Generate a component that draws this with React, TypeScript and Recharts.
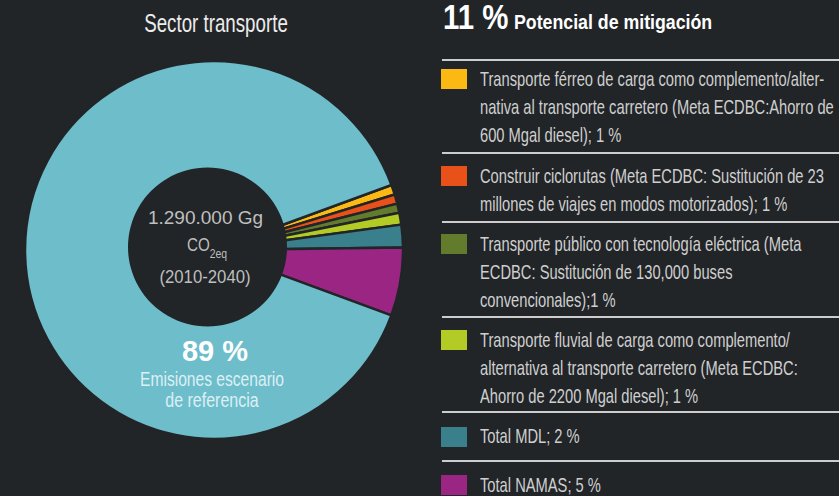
import React from 'react';
import { PieChart, Pie, Cell } from 'recharts';

// ---- data ----
const sliceNames = [
  'Transporte férreo de carga',
  'Construir ciclorutas',
  'Transporte público con tecnología eléctrica',
  'Transporte fluvial de carga',
  'Total MDL',
  'Total NAMAS',
  'Emisiones escenario de referencia',
];
const sliceValues = [0.84, 0.8, 0.79, 1.01, 1.94, 5.83, 88.79];
const sliceColors = ['#fdb913', '#e8521a', '#627b2c', '#b3cb25', '#3a7f8c', '#9a2583', '#6ebdcb'];

const legendLabels: string[][] = [
  [
    'Transporte férreo de carga como complemento/alter-',
    'nativa al transporte carretero (Meta ECDBC:Ahorro de',
    '600 Mgal diesel); 1 %',
  ],
  ['Construir ciclorutas (Meta ECDBC: Sustitución de 23', 'millones de viajes en modos motorizados); 1 %'],
  ['Transporte público con tecnología eléctrica (Meta', 'ECDBC: Sustitución de 130,000 buses', 'convencionales);1 %'],
  [
    'Transporte fluvial de carga como complemento/',
    'alternativa al transporte carretero (Meta ECDBC:',
    'Ahorro de 2200 Mgal diesel); 1 %',
  ],
  ['Total MDL; 2 %'],
  ['Total NAMAS; 5 %'],
];

const chartTitle = 'Sector transporte';
const headerValue = '11 %';
const headerText = 'Potencial de mitigación';
const centerLines = ['1.290.000 Gg', 'CO', '2eq', '(2010-2040)'];
const mainValue = '89 %';
const mainLabel = ['Emisiones escenario', 'de referencia'];

// ---- styles / layout ----
const BG = '#222528';
const SANS = '"Liberation Sans", Arial, sans-serif';
const sepYs = [60, 152.7, 221.7, 316.7, 412.3, 461];
const swatchTops = [69, 166, 234, 330, 426.5, 475];
const LINE_H = 28.3;

const pieData = sliceNames.map((name, i) => ({ name, value: sliceValues[i] }));
const holeData = [{ name: 'hole', value: 1 }];

type TProps = {
  x: number;
  y: number;
  size: number;
  children: React.ReactNode;
  align?: 'left' | 'center';
  color?: string;
  weight?: number;
  family?: string;
  scale?: number;
  lhf?: number;
};

function T({
  x,
  y,
  size,
  children,
  align = 'left',
  color = '#d0d0d0',
  weight = 400,
  family = SANS,
  scale = 1,
  lhf = 1.2,
}: TProps) {
  const lh = size * lhf;
  const style: React.CSSProperties = {
    position: 'absolute',
    top: y - lh / 2,
    height: lh,
    lineHeight: `${lh}px`,
    fontSize: size,
    fontFamily: family,
    fontWeight: weight,
    color,
    whiteSpace: 'nowrap',
    transform: `scaleX(${scale})`,
    transformOrigin: align === 'left' ? 'left center' : 'center center',
  };
  if (align === 'center') {
    style.left = x - 300;
    style.width = 600;
    style.textAlign = 'center';
  } else {
    style.left = x;
  }
  return <div style={style}>{children}</div>;
}

export default function App() {
  return (
    <div
      style={{
        position: 'fixed',
        left: 0,
        top: 0,
        width: 839,
        height: 496,
        background: BG,
        overflow: 'hidden',
      }}
    >
      <div style={{ position: 'absolute', left: 0, top: 0 }}>
        <PieChart width={839} height={496}>
          <Pie
            data={pieData}
            dataKey="value"
            nameKey="name"
            cx={209}
            cy={245}
            innerRadius={40}
            outerRadius={189}
            startAngle={20.1}
            endAngle={20.1 - 360}
            stroke={BG}
            strokeWidth={2.5}
            isAnimationActive={false}
          >
            {pieData.map((d, i) => (
              <Cell key={d.name} fill={sliceColors[i]} />
            ))}
          </Pie>
          <Pie
            data={holeData}
            dataKey="value"
            cx={202.5}
            cy={242}
            innerRadius={0}
            outerRadius={79.5}
            stroke="none"
            fill={BG}
            isAnimationActive={false}
          />
        </PieChart>
      </div>

      {/* left title */}
      <T x={215.5} y={23.3} size={26} align="center" color="#ececec" scale={0.72}>
        {chartTitle}
      </T>

      {/* centre texts */}
      <T x={205.5} y={218} size={19} align="center" color="#bfbfbf">
        {centerLines[0]}
      </T>
      <div
        style={{
          position: 'absolute',
          left: 186.5,
          top: 245.5 - 11.4,
          height: 22.8,
          lineHeight: '22.8px',
          fontSize: 19,
          fontFamily: SANS,
          color: '#bfbfbf',
          whiteSpace: 'nowrap',
          transform: 'scaleX(0.8)',
          transformOrigin: 'left center',
        }}
      >
        {centerLines[1]}
        <span style={{ fontSize: 13, position: 'relative', top: 7 }}>{centerLines[2]}</span>
      </div>
      <T x={205} y={277} size={19} align="center" color="#bfbfbf" scale={0.88}>
        {centerLines[3]}
      </T>
      <T x={215} y={351.7} size={29} align="center" color="#ffffff" weight={700}>
        {mainValue}
      </T>
      <T x={211.5} y={379} size={20} align="center" color="#dcf0f4" scale={0.78}>
        {mainLabel[0]}
      </T>
      <T x={211.7} y={400} size={20} align="center" color="#dcf0f4" scale={0.8}>
        {mainLabel[1]}
      </T>

      {/* header */}
      <T x={443} y={16.5} size={35} color="#ffffff" weight={700} scale={0.84} lhf={0.9}>
        {headerValue}
      </T>
      <T x={514} y={21.5} size={21} color="#ffffff" weight={700} scale={0.845}>
        {headerText}
      </T>

      {/* legend */}
      {sepYs.map((y, i) => (
        <div
          key={'sep' + i}
          style={{ position: 'absolute', left: 442, width: 397, top: y - 1, height: 2, background: '#cdcdcd' }}
        />
      ))}
      {legendLabels.map((lines, i) => (
        <React.Fragment key={'lg' + i}>
          <div
            style={{
              position: 'absolute',
              left: 441,
              top: swatchTops[i],
              width: 26,
              height: 20,
              background: sliceColors[i],
            }}
          />
          {lines.map((ln, j) => (
            <T key={j} x={480} y={swatchTops[i] + 9.3 + j * LINE_H} size={21} color="#cfcfcf" scale={0.7}>
              {ln}
            </T>
          ))}
        </React.Fragment>
      ))}
    </div>
  );
}
